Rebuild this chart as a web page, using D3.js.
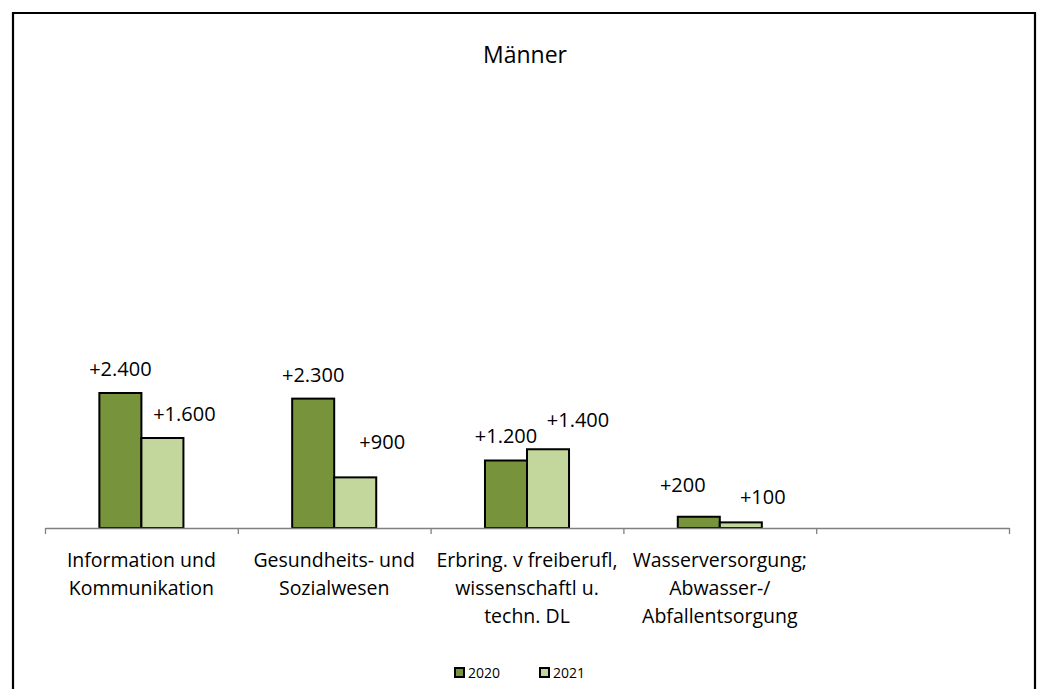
<!DOCTYPE html>
<html>
<head>
<meta charset="utf-8">
<script src="https://cdn.jsdelivr.net/npm/d3@7"></script>
<style>
  html, body { margin: 0; padding: 0; background: #fff; }
  svg { display: block; font-family: "Open Sans", "Noto Sans", sans-serif; }
</style>
</head>
<body>
<svg id="chart" width="1041" height="689"></svg>
<script>
// Branches (last slot left empty on purpose)
const categories = [
  ["Information und", "Kommunikation"],
  ["Gesundheits- und", "Sozialwesen"],
  ["Erbring. v freiberufl,", "wissenschaftl u.", "techn. DL"],
  ["Wasserversorgung;", "Abwasser-/", "Abfallentsorgung"],
  []
];
const seriesNames = ["2020", "2021"];
const values2020 = [2400, 2300, 1200, 200, null];
const values2021 = [1600, 900, 1400, 100, null];
const labels2020 = ["+2.400", "+2.300", "+1.200", "+200", null];
const labels2021 = ["+1.600", "+900", "+1.400", "+100", null];

// hand-placed label nudges (dx, gap above bar top)
const labelDx2020 = [0, 0, 0, -16];
const labelGap2020 = [24, 24, 25, 32];
const labelDx2021 = [22, 27, 30, 22];
const labelGap2021 = [24, 35, 29, 25];

const colors = { "2020": "#77933C", "2021": "#C3D69B" };

const svg = d3.select("#chart");

// frame
svg.append("path")
  .attr("d", "M13,700 L13,13 L1035,13 L1035,700")
  .attr("fill", "none").attr("stroke", "#000").attr("stroke-width", 2.2);

// title
svg.append("text")
  .attr("x", 525).attr("y", 63)
  .attr("text-anchor", "middle")
  .attr("font-size", 23).attr("fill", "#000")
  .text("Männer");

const plotLeft = 45, plotRight = 1009, baseY = 528;

const x0 = d3.scaleBand()
  .domain(d3.range(categories.length))
  .range([plotLeft, plotRight])
  .padding(0);

const step = x0.step();
const barW = step * 0.218;
const x1 = d3.scaleBand()
  .domain(seriesNames)
  .range([step / 2 - barW, step / 2 + barW])
  .padding(0);

const y = d3.scaleLinear().domain([0, 8000]).range([baseY, 78]);

const series = [
  { name: "2020", values: values2020, labels: labels2020, dx: labelDx2020, gap: labelGap2020 },
  { name: "2021", values: values2021, labels: labels2021, dx: labelDx2021, gap: labelGap2021 }
];

// bars and value labels
series.forEach(s => {
  const pts = s.values.map((v, i) => ({ v, i })).filter(d => d.v != null);
  svg.append("g").selectAll("rect")
    .data(pts)
    .join("rect")
    .attr("x", d => x0(d.i) + x1(s.name))
    .attr("y", d => y(d.v))
    .attr("width", x1.bandwidth())
    .attr("height", d => baseY - y(d.v))
    .attr("fill", colors[s.name])
    .attr("stroke", "#000")
    .attr("stroke-width", 2);

  svg.append("g").selectAll("text")
    .data(pts)
    .join("text")
    .attr("x", d => x0(d.i) + x1(s.name) + x1.bandwidth() / 2 + s.dx[d.i])
    .attr("y", d => y(d.v) - s.gap[d.i])
    .attr("dy", "0.35em")
    .attr("text-anchor", "middle")
    .attr("font-size", 20)
    .attr("fill", "#000")
    .text(d => s.labels[d.i]);
});

// category axis with boundary ticks
const tickPositions = d3.range(categories.length + 1).map(i => plotLeft + i * step);
const axisScale = d3.scaleLinear().domain([plotLeft, plotRight]).range([plotLeft, plotRight]);
const axis = d3.axisBottom(axisScale)
  .tickValues(tickPositions)
  .tickSize(6)
  .tickSizeOuter(0)
  .tickFormat("");
const axisG = svg.append("g")
  .attr("transform", `translate(0,${baseY})`)
  .call(axis);
axisG.selectAll("path, line").attr("stroke", "#808080").attr("stroke-width", 1.3);

// category labels
const catG = svg.append("g");
categories.forEach((lines, i) => {
  const t = catG.append("text")
    .attr("text-anchor", "middle")
    .attr("font-size", 19.5)
    .attr("fill", "#000");
  lines.forEach((ln, k) => {
    t.append("tspan")
      .attr("x", x0(i) + step / 2)
      .attr("y", 567 + k * 28)
      .text(ln);
  });
});

// legend
const legend = svg.append("g");
const legendX = [455, 540];
seriesNames.forEach((name, k) => {
  legend.append("rect")
    .attr("x", legendX[k]).attr("y", 668)
    .attr("width", 9).attr("height", 9)
    .attr("fill", colors[name])
    .attr("stroke", "#000").attr("stroke-width", 2);
  legend.append("text")
    .attr("x", legendX[k] + 13).attr("y", 678)
    .attr("font-size", 14).attr("fill", "#000")
    .text(name);
});
</script>
</body>
</html>
